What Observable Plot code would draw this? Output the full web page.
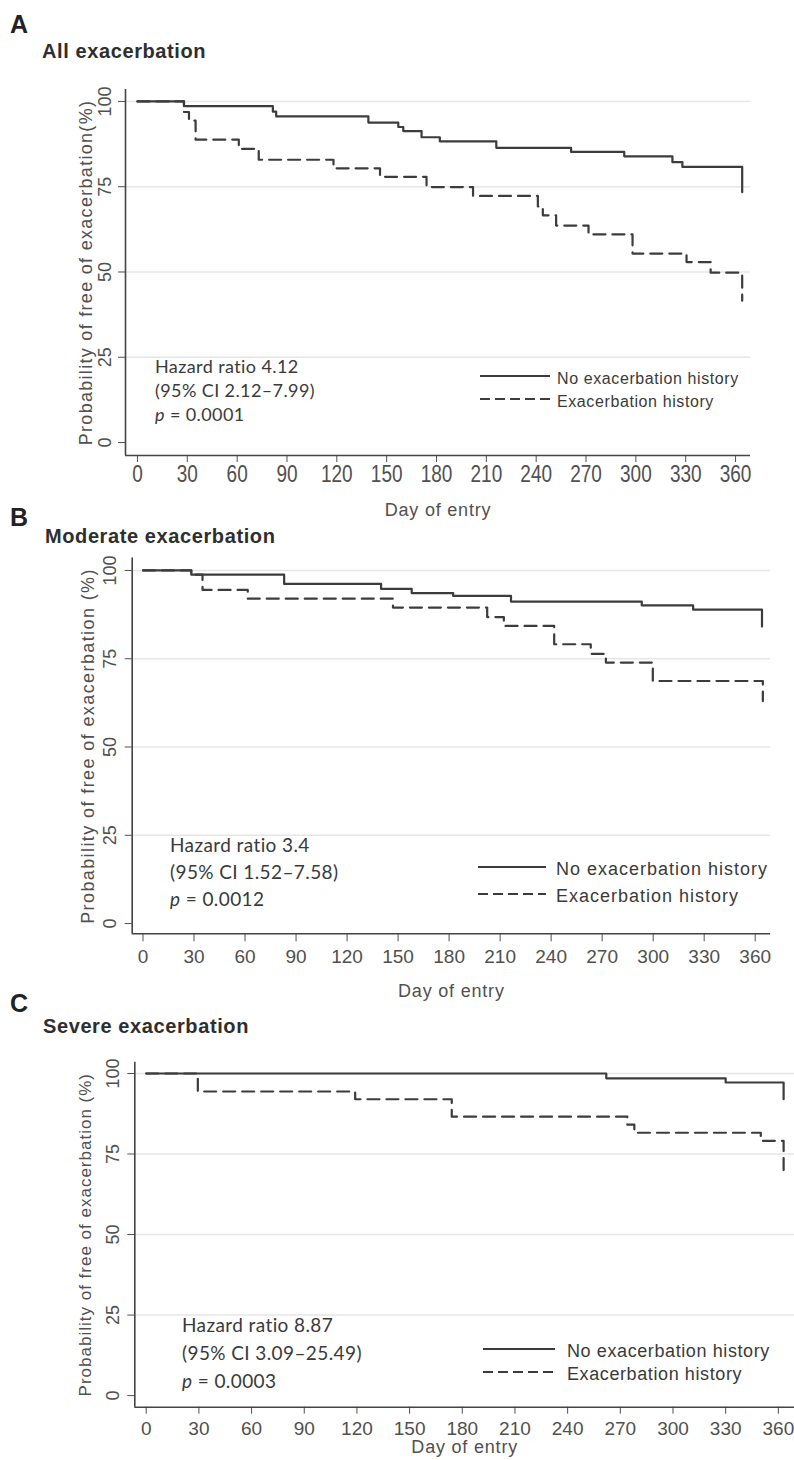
<!DOCTYPE html>
<html><head><meta charset="utf-8">
<script src="https://cdn.jsdelivr.net/npm/d3@7"></script>
<script src="https://cdn.jsdelivr.net/npm/@observablehq/plot@0.6"></script>
<style>
body{margin:0;background:#fff;}
#page{position:relative;width:794px;height:1460px;overflow:hidden;background:#fff;}
.panel{position:absolute;left:0;}
#overlay{position:absolute;left:0;top:0;pointer-events:none;}
</style></head><body><div id="page"></div>
<script>
// ---------- DATA ----------
const xTicks = [0, 30, 60, 90, 120, 150, 180, 210, 240, 270, 300, 330, 360];
const yTicks = [0, 25, 50, 75, 100];
const gridTicks = [25, 50, 75, 100];
const groupLabels = ["No exacerbation history", "Exacerbation history"];
const panelLetters = ["A", "B", "C"];
const panelTitles = ["All exacerbation", "Moderate exacerbation", "Severe exacerbation"];
const yLabels = ["Probability of free of exacerbation(%)", "Probability of free of exacerbation (%)", "Probability of free of exacerbation (%)"];
const xLabel = "Day of entry";
const hazardLines = ["Hazard ratio 4.12", "Hazard ratio 3.4", "Hazard ratio 8.87"];
const ciLines = ["(95% CI 2.12\u20137.99)", "(95% CI 1.52\u20137.58)", "(95% CI 3.09\u201325.49)"];
const pValues = ["0.0001", "0.0012", "0.0003"];

// Panel A: all exacerbation
const dayA_noHist  = [0, 28, 81.5, 83.5, 139, 157, 160, 171, 182, 216, 261, 293, 322, 328, 364];
const survA_noHist = [100, 98.6, 97.0, 95.6, 93.8, 92.5, 91.3, 89.5, 88.3, 86.4, 85.2, 83.9, 82.2, 80.8, 73.4];
const dayA_hist    = [0, 28, 31, 35, 61, 73, 118, 146, 174, 202, 241, 244, 252, 271.5, 298, 330.5, 345, 364];
const survA_hist   = [100, 96.9, 94.4, 88.8, 86.1, 82.9, 80.4, 77.9, 74.9, 72.3, 69.2, 66.6, 63.6, 61.0, 55.4, 52.9, 49.8, 41.6];

// Panel B: moderate exacerbation
const dayB_noHist  = [0, 28.4, 83, 140, 158, 182.4, 216.4, 293.3, 323.5, 364];
const survB_noHist = [100, 98.8, 96.2, 94.8, 93.6, 92.8, 91.2, 90.1, 88.9, 84.1];
const dayB_hist    = [0, 28.4, 35, 61.6, 147, 202.4, 212.2, 241.8, 263.3, 272.2, 299.8, 364.5];
const survB_hist   = [100, 98.8, 94.5, 92.0, 89.5, 86.8, 84.3, 79.1, 76.4, 73.9, 68.7, 63.0];

// Panel C: severe exacerbation
const dayC_noHist  = [0, 262, 330, 363];
const survC_noHist = [100, 98.5, 97.2, 92.0];
const dayC_hist    = [0, 29.4, 119, 174, 274, 278, 350, 363];
const survC_hist   = [100, 94.4, 92.0, 86.6, 84.1, 81.6, 79.1, 68.0];

// ---------- LAYOUT ----------
const layouts = [
  {top: 60, height: 460, mt: 29, mb: 65, ml: 125, mr: 44, xDomain: [-7.2, 369], yDomain: [-3.8, 103.5],
   xTickSize: 7, xTickPad: 2, xStretch: 1.3, xLabelOffset: 60, yTickPad: 8, yLabelOffset: 46, yLabelSize: 18, yLabelSpacing: 1.3,
   letterY: 33, titleY: 58, titleX: 42,
   statX: 155, statY: [373, 397, 421], statSize: 18,
   legX1: 480, legX2: 550, legTextX: 557, legY: [384, 407], legSize: 16, legSpacing: 0.6},
  {top: 520, height: 460, mt: 37.6, mb: 46.7, ml: 131.7, mr: 24, xDomain: [-6.35, 369], yDomain: [-2.9, 103.5],
   xTickSize: 8, xTickPad: 8, xStretch: 1, xLabelOffset: 63, yTickPad: 9, yLabelOffset: 51, yLabelSize: 18, yLabelSpacing: 1.4,
   letterY: 526, titleY: 543, titleX: 45,
   statX: 170, statY: [852, 879, 906], statSize: 19,
   legX1: 478, legX2: 546, legTextX: 556, legY: [875, 902], legSize: 18, legSpacing: 1},
  {top: 1040, height: 420, mt: 21.7, mb: 53.3, ml: 134.3, mr: 0, xDomain: [-6.5, 369.2], yDomain: [-3.6, 103.5],
   xTickSize: 7, xTickPad: 7, xStretch: 1, xLabelOffset: 46, yTickPad: 9, yLabelOffset: 56, yLabelSize: 17, yLabelSpacing: 1,
   letterY: 1012, titleY: 1033, titleX: 43,
   statX: 182, statY: [1332, 1360, 1388], statSize: 19,
   legX1: 483, legX2: 555, legTextX: 567, legY: [1357, 1380], legSize: 18, legSpacing: 0.6}
];

const series = [
  [dayA_noHist, survA_noHist, dayA_hist, survA_hist],
  [dayB_noHist, survB_noHist, dayB_hist, survB_hist],
  [dayC_noHist, survC_noHist, dayC_hist, survC_hist]
];

const page = document.getElementById("page");
const tickFont = '"Liberation Sans", Arial, sans-serif';
const lineColor = "#3c3c3c";

layouts.forEach((cfg, p) => {
  const [d0, s0, d1, s1] = series[p];
  const noData = d0.map((d, i) => ({day: d, surv: s0[i], group: groupLabels[0]}));
  const hData = d1.map((d, i) => ({day: d, surv: s1[i], group: groupLabels[1]}));
  const svg = Plot.plot({
    width: 794, height: cfg.height,
    marginTop: cfg.mt, marginBottom: cfg.mb, marginLeft: cfg.ml, marginRight: cfg.mr,
    x: {domain: cfg.xDomain},
    y: {domain: cfg.yDomain},
    style: {fontFamily: tickFont, color: "#505050", background: "transparent", overflow: "visible"},
    marks: [
      Plot.ruleY(gridTicks, {stroke: "#e6e6e6", strokeWidth: 1.5}),
      Plot.axisX({ticks: xTicks, tickSize: cfg.xTickSize, tickPadding: cfg.xTickPad, fontSize: 19,
                  label: xLabel, labelAnchor: "center", labelOffset: cfg.xLabelOffset, labelArrow: "none"}),
      Plot.axisY({ticks: yTicks, tickSize: 7, tickRotate: -90, tickPadding: cfg.yTickPad, fontSize: 18,
                  label: yLabels[p], labelAnchor: "center", labelOffset: cfg.yLabelOffset, labelArrow: "none"}),
      Plot.ruleX([cfg.xDomain[0]], {stroke: "#444", strokeWidth: 1.6}),
      Plot.ruleY([cfg.yDomain[0]], {stroke: "#444", strokeWidth: 1.6}),
      Plot.line(noData, {x: "day", y: "surv", curve: "step-after", stroke: lineColor, strokeWidth: 2.2}),
      Plot.line(hData, {x: "day", y: "surv", curve: "step-after", stroke: lineColor, strokeWidth: 2.2, strokeDasharray: "12,7"})
    ]
  });
  // stretch x tick labels where the reference shows them tall
  if (cfg.xStretch !== 1) {
    svg.querySelectorAll('g[aria-label="x-axis tick label"] text').forEach(t => {
      const tr = t.getAttribute("transform");
      if (tr) t.setAttribute("transform", tr + ` scale(1,${cfg.xStretch})`);
    });
  }
  const xl = svg.querySelector('g[aria-label="x-axis label"] text');
  if (xl) { xl.style.fontSize = "18px"; xl.style.letterSpacing = "0.8px"; }
  const yl = svg.querySelector('g[aria-label="y-axis label"] text');
  if (yl) { yl.style.fontSize = cfg.yLabelSize + "px"; yl.style.letterSpacing = cfg.yLabelSpacing + "px"; }

  const div = document.createElement("div");
  div.className = "panel";
  div.style.top = cfg.top + "px";
  div.appendChild(svg);
  page.appendChild(div);
});

// ---------- OVERLAY: panel titles, statistics, legends ----------
const ov = d3.select(page).append("svg").attr("id", "overlay").attr("width", 794).attr("height", 1460);
layouts.forEach((cfg, p) => {
  ov.append("text").attr("x", 10).attr("y", cfg.letterY).text(panelLetters[p])
    .attr("font-family", '"Liberation Sans", Arial, sans-serif').attr("font-weight", "bold").attr("font-size", 25).attr("fill", "#222");
  ov.append("text").attr("x", cfg.titleX).attr("y", cfg.titleY).text(panelTitles[p])
    .attr("font-family", '"Liberation Sans", Arial, sans-serif').attr("font-weight", "bold").attr("font-size", 20)
    .attr("letter-spacing", 0.6).attr("fill", "#2e2e2e");
  const st = (y) => ov.append("text").attr("x", cfg.statX).attr("y", y)
    .attr("font-family", "Lato, 'Open Sans', sans-serif").attr("font-size", cfg.statSize)
    .attr("letter-spacing", 0.4).attr("fill", "#3a3a3a");
  st(cfg.statY[0]).text(hazardLines[p]);
  st(cfg.statY[1]).text(ciLines[p]);
  const pl = st(cfg.statY[2]);
  pl.append("tspan").attr("font-style", "italic").text("p");
  pl.append("tspan").text(" = " + pValues[p]);
  // legend
  groupLabels.forEach((g, i) => {
    const y = cfg.legY[i];
    ov.append("line").attr("x1", cfg.legX1).attr("x2", cfg.legX2)
      .attr("y1", y - 8).attr("y2", y - 8).attr("stroke", lineColor).attr("stroke-width", 2)
      .attr("stroke-dasharray", i === 1 ? "10,5" : null);
    ov.append("text").attr("x", cfg.legTextX).attr("y", y).text(g)
      .attr("font-family", '"Liberation Sans", Arial, sans-serif').attr("font-size", cfg.legSize)
      .attr("letter-spacing", cfg.legSpacing).attr("fill", "#3a3a3a");
  });
});
</script></body></html>
